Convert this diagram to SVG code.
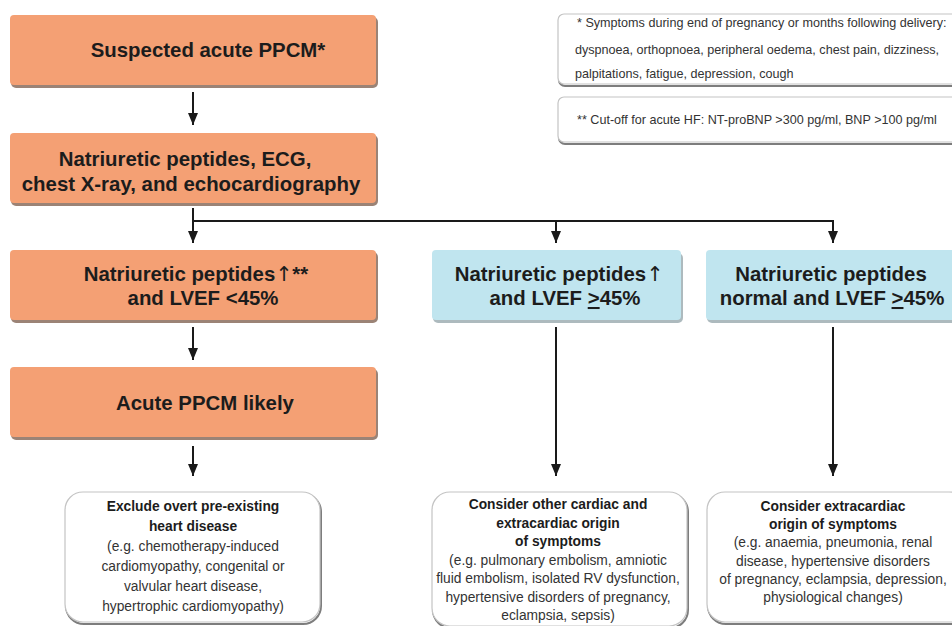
<svg xmlns="http://www.w3.org/2000/svg" width="952" height="626" viewBox="0 0 952 626">
<style>
.bg{fill:#ffffff}
.or{fill:#F4A074}
.bl{fill:#C0E5EF}
.sh{fill:#7a5a48;opacity:0.75}
.shb{fill:#8a9ca2;opacity:0.7}
.wb{fill:#ffffff;stroke:#c4c4c4;stroke-width:1.2}
.wsh{fill:none;stroke:#7d7d7d;stroke-width:2}
.t{font-family:"Liberation Sans",Arial,sans-serif;font-weight:bold;font-size:20.4px;fill:#1c1c1c;text-anchor:middle}
.up{font-family:"DejaVu Sans",sans-serif;font-weight:normal}
.nt{font-family:"Liberation Sans",Arial,sans-serif;font-size:12.6px;fill:#333}
.bt{font-family:"Liberation Sans",Arial,sans-serif;font-weight:bold;font-size:13.8px;fill:#1c1c1c;text-anchor:middle}
.rt{font-family:"Liberation Sans",Arial,sans-serif;font-size:13.8px;fill:#333;text-anchor:middle}
.ln{fill:none;stroke:#1a1a1a;stroke-width:2}
</style>
<defs>
<marker id="ah" markerWidth="12" markerHeight="10" refX="12" refY="5" orient="auto" markerUnits="userSpaceOnUse" viewBox="0 0 12 10">
<path d="M0,0 L12,5 L0,10 Z" fill="#1a1a1a"/>
</marker>
</defs>
<rect class="bg" width="952" height="626"/>

<g id="n1">
<rect class="sh" x="11" y="17" width="367" height="71" rx="5"/>
<rect class="or" x="10" y="15" width="366" height="70" rx="4"/>
<text class="t" x="208" y="57">Suspected acute PPCM*</text>
</g>

<g id="n2">
<rect class="sh" x="11" y="135" width="367" height="71" rx="5"/>
<rect class="or" x="10" y="133" width="366" height="70" rx="4"/>
<text class="t" x="185" y="166">Natriuretic peptides, ECG,</text>
<text class="t" x="191" y="191">chest X-ray, and echocardiography</text>
</g>

<g id="n3">
<rect class="sh" x="11" y="252" width="367" height="71" rx="5"/>
<rect class="or" x="10" y="250" width="366" height="70" rx="4"/>
<text class="t" x="196" y="281">Natriuretic peptides<tspan class="up">↑</tspan>**</text>
<text class="t" x="203" y="305">and LVEF &lt;45%</text>
</g>

<g id="n4">
<rect class="sh" x="11" y="369" width="367" height="71" rx="5"/>
<rect class="or" x="10" y="367" width="366" height="70" rx="4"/>
<text class="t" x="205" y="410">Acute PPCM likely</text>
</g>

<g id="n5">
<rect class="shb" x="433" y="253" width="250" height="70" rx="5"/>
<rect class="bl" x="432" y="250" width="249" height="70" rx="4"/>
<text class="t" x="559" y="281">Natriuretic peptides<tspan class="up">↑</tspan></text>
<text class="t" x="565" y="305">and LVEF <tspan text-decoration="underline">&gt;</tspan>45%</text>
</g>

<g id="n6">
<rect class="shb" x="707" y="253" width="260" height="70" rx="5"/>
<rect class="bl" x="706" y="250" width="260" height="70" rx="4"/>
<text class="t" x="831" y="281">Natriuretic peptides</text>
<text class="t" x="832" y="305">normal and LVEF <tspan text-decoration="underline">&gt;</tspan>45%</text>
</g>

<g id="note1">
<rect class="wsh" x="559" y="16" width="410" height="70" rx="6"/>
<rect class="wb" x="558" y="14" width="410" height="70" rx="6"/>
<text class="nt" x="577" y="27">* Symptoms during end of pregnancy or months following delivery:</text>
<text class="nt" x="575" y="54">dyspnoea, orthopnoea, peripheral oedema, chest pain, dizziness,</text>
<text class="nt" x="575" y="78">palpitations, fatigue, depression, cough</text>
</g>

<g id="note2">
<rect class="wsh" x="559" y="99" width="410" height="45" rx="6"/>
<rect class="wb" x="558" y="97" width="410" height="45" rx="6"/>
<text class="nt" x="577" y="124">** Cut-off for acute HF: NT-proBNP &gt;300 pg/ml, BNP &gt;100 pg/ml</text>
</g>

<g id="n7">
<rect class="wsh" x="66" y="494" width="255" height="130" rx="18"/>
<rect class="wb" x="65" y="492" width="255" height="130" rx="18"/>
<text class="bt" x="193" y="511">Exclude overt pre-existing</text>
<text class="bt" x="193" y="531">heart disease</text>
<text class="rt" x="193" y="551">(e.g. chemotherapy-induced</text>
<text class="rt" x="193" y="571">cardiomyopathy, congenital or</text>
<text class="rt" x="193" y="591">valvular heart disease,</text>
<text class="rt" x="193" y="611">hypertrophic cardiomyopathy)</text>
</g>

<g id="n8">
<rect class="wsh" x="433" y="494" width="255" height="134" rx="18"/>
<rect class="wb" x="432" y="492" width="255" height="134" rx="18"/>
<text class="bt" x="558" y="509">Consider other cardiac and</text>
<text class="bt" x="558" y="527.5">extracardiac origin</text>
<text class="bt" x="558" y="546">of symptoms</text>
<text class="rt" x="558" y="564.5">(e.g. pulmonary embolism, amniotic</text>
<text class="rt" x="558" y="583">fluid embolism, isolated RV dysfunction,</text>
<text class="rt" x="558" y="601.5">hypertensive disorders of pregnancy,</text>
<text class="rt" x="558" y="620">eclampsia, sepsis)</text>
</g>

<g id="n9">
<rect class="wsh" x="708" y="494" width="260" height="130" rx="18"/>
<rect class="wb" x="707" y="492" width="260" height="130" rx="18"/>
<text class="bt" x="833" y="511">Consider extracardiac</text>
<text class="bt" x="833" y="529">origin of symptoms</text>
<text class="rt" x="833" y="547">(e.g. anaemia, pneumonia, renal</text>
<text class="rt" x="833" y="566">disease, hypertensive disorders</text>
<text class="rt" x="833" y="584">of pregnancy, eclampsia, depression,</text>
<text class="rt" x="833" y="602">physiological changes)</text>
</g>

<g id="connectors">
<line class="ln" x1="193" y1="92" x2="193" y2="125" marker-end="url(#ah)"/>
<polyline class="ln" points="193,208 193,221 833,221"/>
<line class="ln" x1="193" y1="221" x2="193" y2="243" marker-end="url(#ah)"/>
<line class="ln" x1="556" y1="221" x2="556" y2="243" marker-end="url(#ah)"/>
<line class="ln" x1="833" y1="220" x2="833" y2="243" marker-end="url(#ah)"/>
<line class="ln" x1="193" y1="327" x2="193" y2="360" marker-end="url(#ah)"/>
<line class="ln" x1="556" y1="327" x2="556" y2="476" marker-end="url(#ah)"/>
<line class="ln" x1="833" y1="327" x2="833" y2="476" marker-end="url(#ah)"/>
<line class="ln" x1="193" y1="446" x2="193" y2="476" marker-end="url(#ah)"/>
</g>
</svg>
